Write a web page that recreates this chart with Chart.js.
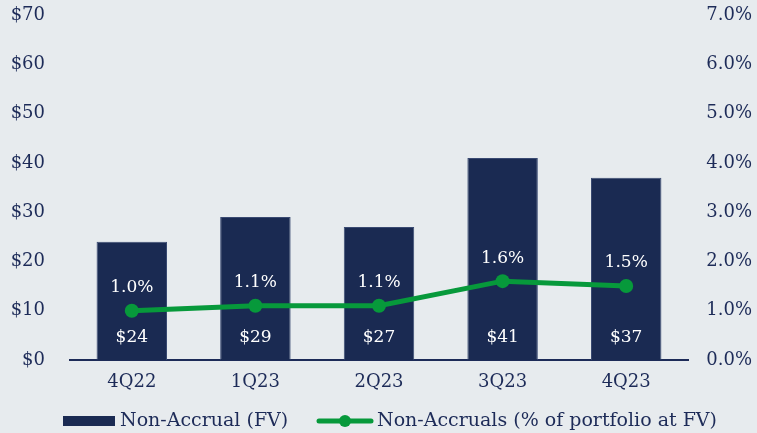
<!DOCTYPE html>
<html>
<head>
<meta charset="utf-8">
<script src="https://cdn.jsdelivr.net/npm/chart.js@4/dist/chart.umd.min.js"></script>
<style>
  html,body{margin:0;padding:0;background:#e7ebee;}
  #wrap{width:757px;height:433px;position:relative;}
</style>
</head>
<body>
<div id="wrap"><canvas id="c" width="757" height="433"></canvas></div>
<script>
const categories = ['4Q22', '1Q23', '2Q23', '3Q23', '4Q23'];
const nonAccrualFV = [24, 29, 27, 41, 37];
const nonAccrualPct = [1.0, 1.1, 1.1, 1.6, 1.5];
const barLabel = 'Non-Accrual (FV)';
const lineLabel = 'Non-Accruals (% of portfolio at FV)';

const NAVY_TEXT = '#1d2b58';
const BAR = '#1a2a52';
const GREEN = '#07993b';
const FONT = '"DejaVu Serif", serif';

const labelsPlugin = {
  id: 'valueLabels',
  afterDatasetsDraw(chart) {
    const ctx = chart.ctx;
    const y = chart.scales.y;
    const barMeta = chart.getDatasetMeta(1);
    const lineMeta = chart.getDatasetMeta(0);
    ctx.save();
    ctx.fillStyle = '#ffffff';
    ctx.font = '17px ' + FONT;
    ctx.textAlign = 'center';
    ctx.textBaseline = 'middle';
    barMeta.data.forEach((el, i) => {
      ctx.fillText('$' + nonAccrualFV[i], el.x, y.getPixelForValue(0) - 22);
    });
    lineMeta.data.forEach((el, i) => {
      ctx.fillText(nonAccrualPct[i].toFixed(1) + '%', el.x, el.y - 23);
    });
    ctx.restore();
  }
};

const legendPlugin = {
  id: 'customLegend',
  afterDraw(chart) {
    const ctx = chart.ctx;
    const cy = 421;
    ctx.save();
    ctx.fillStyle = BAR;
    ctx.fillRect(63, cy - 5, 52, 10);
    ctx.font = '19px ' + FONT;
    ctx.fillStyle = NAVY_TEXT;
    ctx.textBaseline = 'middle';
    ctx.textAlign = 'left';
    ctx.fillText(barLabel, 120, cy);
    ctx.strokeStyle = GREEN;
    ctx.lineWidth = 5;
    ctx.lineCap = 'round';
    ctx.beginPath();
    ctx.moveTo(319, cy);
    ctx.lineTo(371, cy);
    ctx.stroke();
    ctx.fillStyle = GREEN;
    ctx.beginPath();
    ctx.arc(345, cy, 6, 0, Math.PI * 2);
    ctx.fill();
    ctx.fillStyle = NAVY_TEXT;
    ctx.fillText(lineLabel, 377, cy);
    ctx.restore();
  }
};

function fixPad(s, w) {
  s.width = w;
  s.paddingTop = 15;
  s.paddingBottom = 0;
}

new Chart(document.getElementById('c'), {
  data: {
    labels: categories,
    datasets: [
      {
        type: 'line',
        label: lineLabel,
        data: nonAccrualPct,
        yAxisID: 'y1',
        borderColor: GREEN,
        backgroundColor: GREEN,
        borderWidth: 5,
        pointRadius: 7,
        pointHoverRadius: 7,
        pointBackgroundColor: GREEN,
        pointBorderWidth: 0,
        tension: 0,
        order: 0
      },
      {
        type: 'bar',
        label: barLabel,
        data: nonAccrualFV,
        yAxisID: 'y',
        backgroundColor: BAR,
        borderColor: '#3a4a72',
        borderWidth: 1,
        barPercentage: 0.57,
        categoryPercentage: 1.0,
        order: 1
      }
    ]
  },
  options: {
    responsive: false,
    animation: false,
    devicePixelRatio: 1,
    layout: { padding: { top: 0, right: 5, left: 0, bottom: 0 } },
    plugins: { legend: { display: false }, tooltip: { enabled: false } },
    scales: {
      x: {
        grid: { display: false, drawTicks: false },
        border: { display: true, color: '#1d2b58', width: 2 },
        ticks: { color: NAVY_TEXT, font: { family: FONT, size: 18 }, padding: 12 },
        afterFit(s) { s.height = 73; s.paddingLeft = 0; s.paddingRight = 0; }
      },
      y: {
        position: 'left',
        min: 0, max: 70,
        grid: { display: false, drawTicks: false },
        border: { display: false },
        ticks: { stepSize: 10, color: NAVY_TEXT, font: { family: FONT, size: 18 }, padding: 25,
          callback: v => '$' + v },
        afterFit(s) { fixPad(s, 70); }
      },
      y1: {
        position: 'right',
        min: 0, max: 7,
        grid: { display: false, drawTicks: false },
        border: { display: false },
        ticks: { stepSize: 1, color: NAVY_TEXT, font: { family: FONT, size: 18 }, crossAlign: 'far',
          callback: v => v.toFixed(1) + '%' },
        afterFit(s) { fixPad(s, 64); }
      }
    }
  },
  plugins: [labelsPlugin, legendPlugin]
});
</script>
</body>
</html>
